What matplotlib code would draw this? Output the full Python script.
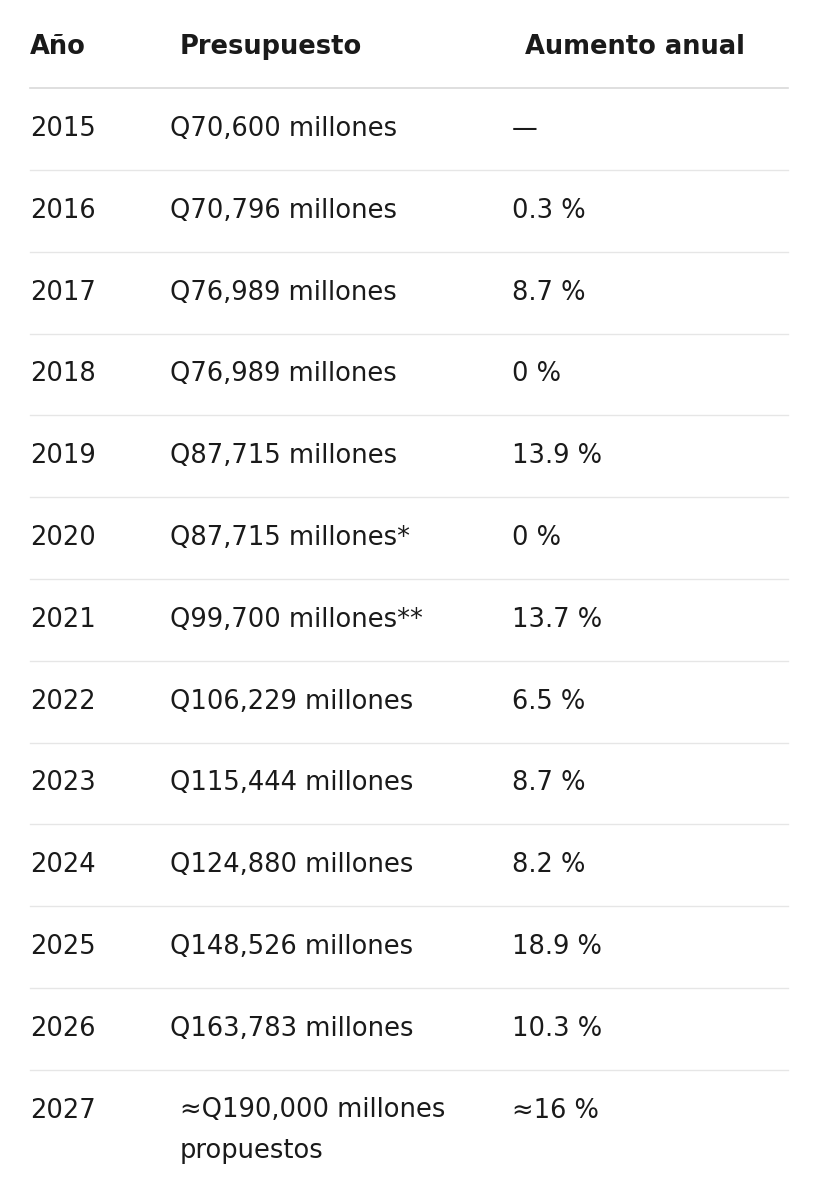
import matplotlib
matplotlib.use("Agg")
import matplotlib.pyplot as plt
from matplotlib.lines import Line2D

headers = ["Año", "Presupuesto", "Aumento anual"]
years = ["2015","2016","2017","2018","2019","2020","2021","2022","2023","2024","2025","2026","2027"]
budgets = ["Q70,600 millones","Q70,796 millones","Q76,989 millones","Q76,989 millones",
           "Q87,715 millones","Q87,715 millones*","Q99,700 millones**","Q106,229 millones",
           "Q115,444 millones","Q124,880 millones","Q148,526 millones","Q163,783 millones",
           "≈Q190,000 millones\npropuestos"]
increases = ["—","0.3 %","8.7 %","0 %","13.9 %","0 %","13.7 %","6.5 %","8.7 %","8.2 %","18.9 %","10.3 %","≈16 %"]

W, H = 819, 1200
fig = plt.figure(figsize=(W/100, H/100), dpi=100)
fig.patch.set_facecolor("white")
plt.rcParams['font.family'] = ['DejaVu Sans']

def fy(y): return 1 - y/H
def fx(x): return x/W

fs = 18.5
col = "#1a1a1a"
for x, t in zip([30, 180, 525], headers):
    fig.text(fx(x), fy(47), t, fontsize=fs, fontweight="semibold", color=col, va="center", ha="left")
fig.add_artist(Line2D([fx(30), fx(788)], [fy(88), fy(88)], color="#d9d9d9", lw=1.2))

step = 81.8
for i, (y, b, a) in enumerate(zip(years, budgets, increases)):
    yc = 129 + i*step
    fig.text(fx(30), fy(yc), y, fontsize=fs, color=col, va="center", ha="left")
    if "\n" in b:
        fig.text(fx(180), fy(yc-14), b, fontsize=fs, color=col, va="top", ha="left", linespacing=1.75)
    else:
        fig.text(fx(170), fy(yc), b, fontsize=fs, color=col, va="center", ha="left")
    fig.text(fx(512), fy(yc), a, fontsize=fs, color=col, va="center", ha="left")
    if i < len(years)-1:
        ly = yc + 41
        fig.add_artist(Line2D([fx(30), fx(788)], [fy(ly), fy(ly)], color="#e6e6e6", lw=1.0))

fig.savefig("out.png", dpi=100)
